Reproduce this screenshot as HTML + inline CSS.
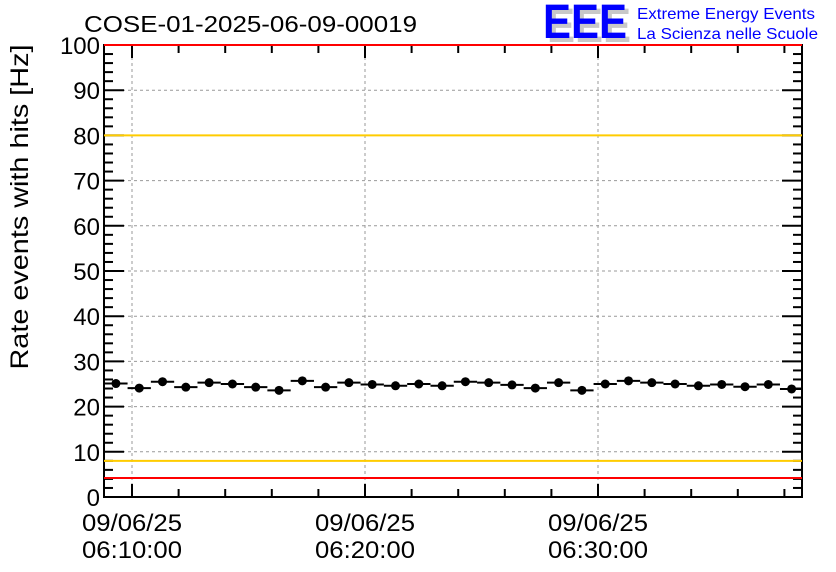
<!DOCTYPE html>
<html><head><meta charset="utf-8"><style>
body{margin:0;background:#fff}
svg{display:block;font-family:"Liberation Sans",Arial,sans-serif}
</style></head><body>
<svg id="c" width="836" height="572" viewBox="0 0 836 572">
<rect width="836" height="572" fill="#fff"/>
<g id="grid"></g><g id="axes"></g><g id="refs"></g><g id="marks"></g>
<text x="84" y="32" font-size="23" textLength="333" lengthAdjust="spacingAndGlyphs">COSE-01-2025-06-09-00019</text>
<g>
<text x="547" y="42" font-size="48" font-weight="bold" fill="#c8c8c8" textLength="84" lengthAdjust="spacingAndGlyphs">EEE</text>
<text x="543" y="38" font-size="48" font-weight="bold" fill="#0000ff" textLength="84" lengthAdjust="spacingAndGlyphs">EEE</text>
<text x="637" y="19" font-size="16" fill="#0000ff" textLength="178" lengthAdjust="spacingAndGlyphs">Extreme Energy Events</text>
<text x="637" y="39" font-size="16" fill="#0000ff" textLength="181" lengthAdjust="spacingAndGlyphs">La Scienza nelle Scuole</text>
</g>
<text transform="translate(28,207) rotate(-90)" text-anchor="middle" font-size="25" textLength="325" lengthAdjust="spacingAndGlyphs">Rate events with hits [Hz]</text>
</svg>
<script>
const minutes=[-0.69,0.31,1.31,2.31,3.31,4.31,5.31,6.31,7.31,8.31,9.31,10.31,11.31,12.31,13.31,14.31,15.31,16.31,17.31,18.31,19.31,20.31,21.31,22.31,23.31,24.31,25.31,26.31,27.31,28.31];
const rates=[25.1,24.1,25.5,24.3,25.3,25.0,24.3,23.6,25.7,24.3,25.3,24.9,24.6,25.0,24.6,25.5,25.3,24.8,24.1,25.3,23.6,25.0,25.7,25.3,25.0,24.6,24.9,24.4,24.9,23.9];
const yTicks=[0,10,20,30,40,50,60,70,80,90,100];
const xMajors=[0,10,20];
const xLabelsDate=["09/06/25","09/06/25","09/06/25"];
const xLabelsTime=["06:10:00","06:20:00","06:30:00"];
const refYellow=[8,80];
const refRed=[4.2,100];
const L=104,R=802,T=45,B=497;
const X=m=>132+m*23.3;
const Y=v=>B-(v/100)*(B-T);
const NS="http://www.w3.org/2000/svg";
function mk(p,t,a){const e=document.createElementNS(NS,t);for(const k in a)e.setAttribute(k,a[k]);p.appendChild(e);return e;}
const g=document.getElementById('grid'),ax=document.getElementById('axes'),mr=document.getElementById('marks'),rf=document.getElementById('refs');
yTicks.forEach(v=>{if(v>0&&v<100){const l=mk(g,'line',{x1:L,x2:R,y1:Y(v),y2:Y(v),stroke:'#999','stroke-dasharray':'3,3','stroke-width':1});

}
const t=mk(ax,'text',{x:L-4,y:Y(v)+9,'text-anchor':'end','font-size':24});t.textContent=v;

});
xMajors.forEach((m,i)=>{const l=mk(g,'line',{x1:X(m),x2:X(m),y1:T,y2:B,stroke:'#999','stroke-dasharray':'3,3','stroke-width':1});


const t1=mk(ax,'text',{x:X(m),y:531,'text-anchor':'middle','font-size':24,textLength:100,lengthAdjust:'spacingAndGlyphs'});t1.textContent=xLabelsDate[i];


const t2=mk(ax,'text',{x:X(m),y:558,'text-anchor':'middle','font-size':24,textLength:100,lengthAdjust:'spacingAndGlyphs'});t2.textContent=xLabelsTime[i];

});
for(let v=0;v<=100;v+=2){const len=v%10===0?20:9;
mk(ax,'line',{x1:L,x2:L+len,y1:Y(v),y2:Y(v),stroke:'#000','stroke-width':2});
mk(ax,'line',{x1:R-len,x2:R,y1:Y(v),y2:Y(v),stroke:'#000','stroke-width':2});}
for(let m=-2;m<=30;m+=2){const x=X(m);if(x<L||x>R)continue;const len=m%10===0?13:8;
mk(ax,'line',{x1:x,x2:x,y1:B-len,y2:B,stroke:'#000','stroke-width':2});
mk(ax,'line',{x1:x,x2:x,y1:T,y2:T+len,stroke:'#000','stroke-width':2});}
const fr=mk(ax,'rect',{x:L,y:T,width:R-L,height:B-T,fill:'none',stroke:'#000','stroke-width':2});


refYellow.forEach(v=>{const l=mk(rf,'line',{x1:L,x2:R,y1:Y(v),y2:Y(v),stroke:'#ffcc00','stroke-width':2});

});
refRed.forEach(v=>{const l=mk(rf,'line',{x1:L,x2:R,y1:Y(v),y2:Y(v),stroke:'#ff0000','stroke-width':2});

});
minutes.forEach((m,i)=>{const x=X(m),y=Y(rates[i]);
const grp=mk(mr,'g',{});


mk(grp,'line',{x1:Math.max(L,x-11.65),x2:Math.min(R,x+11.65),y1:y,y2:y,stroke:'#000','stroke-width':2});
mk(grp,'circle',{cx:x,cy:y,r:4.5,fill:'#000'});});
</script>
</body></html>
